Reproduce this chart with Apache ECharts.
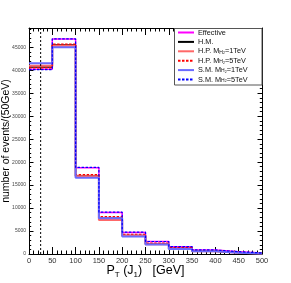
<!DOCTYPE html>
<html>
<head>
<meta charset="utf-8">
<script src="https://cdn.jsdelivr.net/npm/echarts@6/dist/echarts.min.js"></script>
<style>html,body{margin:0;padding:0;background:#fff}#c{width:291px;height:283px}</style>
</head>
<body>
<div id="c"></div>
<script>
// bin edges (GeV)
const binEdges = [0, 50, 100, 150, 200, 250, 300, 350, 400, 450, 500];
const xTicks = ['0','50','100','150','200','250','300','350','400','450','500'];
const cutValue = 25;
const yMax = 49200;

const seriesNames = ['Effective', 'H.M.', 'H.P. MH2=1TeV', 'H.P. MH2=5TeV', 'S.M. MH2=1TeV', 'S.M. MH2=5TeV'];
const effective = [40200, 46800, 18800, 9050, 4700, 2700, 1600, 870, 500, 220];
const hm        = [40700, 45500, 17000, 7800, 4050, 2150, 1200, 620, 300, 120];
const hp1       = [41000, 45350, 16900, 7400, 3950, 2100, 1150, 600, 290, 110];
const hp5       = [40500, 45700, 17300, 8150, 4300, 2400, 1400, 720, 400, 170];
const sm1       = [41500, 45000, 16600, 7800, 3800, 2050, 1100, 580, 280, 100];
const sm5       = [40150, 46850, 18850, 9100, 4750, 2720, 1620, 880, 510, 230];

function hist(vals) {
  const d = [];
  for (let i = 0; i < vals.length; i++) d.push([binEdges[i], vals[i]]);
  d.push([binEdges[binEdges.length - 1], vals[vals.length - 1]]);
  return d;
}

const styles = [
  {color: '#ff00ff', width: 1.5, type: 'solid'},
  {color: '#000000', width: 1.5, type: 'solid'},
  {color: '#ff6868', width: 2, type: 'solid'},
  {color: '#ff0000', width: 1.2, type: [2.5, 1.5]},
  {color: '#6a6aff', width: 2, type: 'solid'},
  {color: '#0000ff', width: 1.2, type: [2.5, 1.5]}
];
const values = [effective, hm, hp1, hp5, sm1, sm5];
const labels = {
  'Effective': 'Effective',
  'H.M.': 'H.M.',
  'H.P. MH2=1TeV': 'H.P. M{s|H}{ss|2}=1TeV',
  'H.P. MH2=5TeV': 'H.P. M{s|H}{ss|2}=5TeV',
  'S.M. MH2=1TeV': 'S.M. M{s|H}{ss|2}=1TeV',
  'S.M. MH2=5TeV': 'S.M. M{s|H}{ss|2}=5TeV'
};

const series = seriesNames.map((n, i) => ({
  name: n, type: 'line', step: 'end', symbol: 'none', animation: false,
  xAxisIndex: 0, yAxisIndex: 0,
  data: hist(values[i]),
  lineStyle: {color: styles[i].color, width: styles[i].width, type: styles[i].type},
  itemStyle: {color: styles[i].color},
  z: 3
}));
series.push({
  name: 'cut', type: 'line', symbol: 'none', animation: false,
  data: [[cutValue, 0], [cutValue, yMax]],
  lineStyle: {color: '#000', width: 1, type: [2, 2]}, z: 4
});

const axFont = 'Liberation Sans, Arial, sans-serif';
const chart = echarts.init(document.getElementById('c'), null, {renderer: 'canvas'});
chart.setOption({
  animation: false,
  backgroundColor: '#fff',
  grid: {left: 29, right: 29, top: 28, bottom: 29, containLabel: false, outerBoundsMode: 'none'},
  xAxis: [{
    type: 'value', min: 0, max: 500, interval: 50, position: 'bottom',
    axisLine: {onZero: false, lineStyle: {color: '#000', width: 1}},
    axisTick: {inside: true, length: 7, lineStyle: {color: '#000'}},
    minorTick: {show: true, splitNumber: 5, length: 3.5, lineStyle: {color: '#000'}},
    splitLine: {show: false},
    axisLabel: {fontSize: 7.5, color: '#333', margin: 3, fontFamily: axFont,
      formatter: (v) => xTicks[binEdges.indexOf(v)] ?? ''},
    name: '{b|P}{s|T}{b| (J}{s|1}{b|)   [GeV]}',
    nameLocation: 'middle', nameGap: 10, nameMoveOverlap: false,
    nameTextStyle: {fontFamily: axFont, color: '#000', rich: {
      b: {fontSize: 12.5, fontFamily: axFont, color: '#000', lineHeight: 14},
      s: {fontSize: 8, fontFamily: axFont, color: '#000', lineHeight: 14, padding: [8, 0, 0, 0]}
    }}
  }, {
    type: 'value', min: 0, max: 500, interval: 50, position: 'top',
    axisLine: {onZero: false, lineStyle: {color: '#000', width: 1}},
    axisTick: {inside: true, length: 7, lineStyle: {color: '#000'}},
    minorTick: {show: true, splitNumber: 5, length: 3.5, lineStyle: {color: '#000'}},
    splitLine: {show: false}, axisLabel: {show: false}
  }],
  yAxis: [{
    type: 'value', min: 0, max: yMax, interval: 5000, position: 'left',
    axisLine: {onZero: false, show: true, lineStyle: {color: '#000', width: 1}},
    axisTick: {show: true, inside: true, length: 4.5, lineStyle: {color: '#000'}},
    minorTick: {show: true, splitNumber: 5, length: 2.2, lineStyle: {color: '#000'}},
    splitLine: {show: false},
    axisLabel: {fontSize: 5, color: '#444', margin: 3, showMaxLabel: false, fontFamily: axFont,
      formatter: (v) => String(v)},
    name: 'number of events/(50GeV)', nameLocation: 'middle', nameGap: 17.5, nameMoveOverlap: false,
    nameTextStyle: {fontSize: 10.5, fontFamily: axFont, color: '#000'}
  }, {
    type: 'value', min: 0, max: yMax, interval: 5000, position: 'right',
    axisLine: {onZero: false, show: true, lineStyle: {color: '#000', width: 1}},
    axisTick: {show: true, inside: true, length: 4.5, lineStyle: {color: '#000'}},
    minorTick: {show: true, splitNumber: 5, length: 2.2, lineStyle: {color: '#000'}},
    splitLine: {show: false}, axisLabel: {show: false}
  }],
  graphic: [{
    type: 'rect', shape: {x: 174.5, y: 28.5, width: 87.5, height: 56.5},
    style: {fill: '#fff', stroke: '#555', lineWidth: 1}, z: 5, zlevel: 0
  }],
  legend: {
    data: seriesNames, orient: 'vertical', left: 173, top: 28.5,
    itemWidth: 16, itemHeight: 8, itemGap: 1.4, padding: [0, 0, 0, 4],
    z: 20,
    itemStyle: {opacity: 0, borderWidth: 0},
    formatter: (n) => labels[n],
    textStyle: {fontSize: 7.3, color: '#111', fontFamily: axFont, lineHeight: 8, padding: [0, 0, 0, -1],
      rich: {
        s: {fontSize: 5, fontFamily: axFont, color: '#111', lineHeight: 8, padding: [2, 0, 0, 0]},
        ss: {fontSize: 3.5, fontFamily: axFont, color: '#111', lineHeight: 8, padding: [4, 0, 0, 0]}
      }}
  },
  series: series
});
</script>
</body>
</html>
